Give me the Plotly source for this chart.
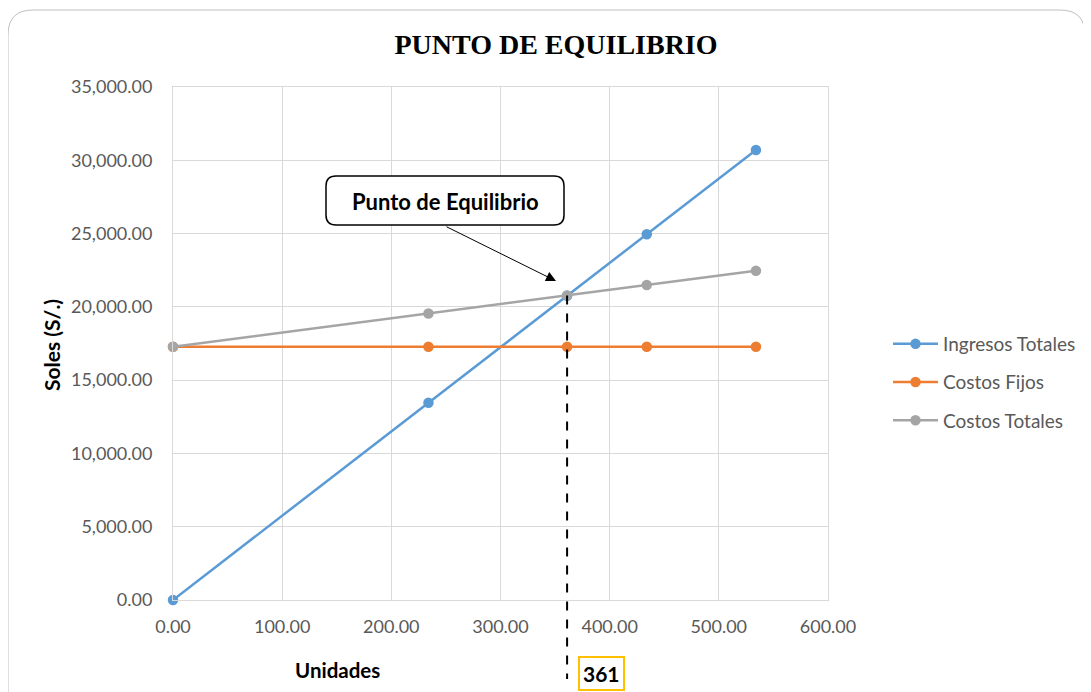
import plotly.graph_objects as go

# ---- data ----
unidades = [0, 234, 361, 434, 534]
ingresos_totales = [0, 13455, 20758, 24955, 30705]
costos_fijos = [17280, 17280, 17280, 17280, 17280]
costos_totales = [17280, 19550, 20782, 21490, 22460]
series_names = ["Ingresos Totales", "Costos Fijos", "Costos Totales"]
series_colors = ["#5B9BD5", "#ED7D31", "#A5A5A5"]
punto_equilibrio = 361
x_range = [0, 600]
y_range = [0, 35000]

W, H = 1091, 692
OFF = 8  # page body offset
PL, PT, PW, PH = 173, 87, 655, 513  # plot box in screen pixels
ML, MT = PL - OFF, PT - OFF
MR, MB = W - ML - PW, H - MT - PH

def px_x(p):  # screen pixel -> paper
    return (p - PL) / PW

def px_y(p):
    return (PT + PH - p) / PH

fig = go.Figure()
for i, (name, vals) in enumerate(zip(series_names, [ingresos_totales, costos_fijos, costos_totales])):
    fig.add_trace(go.Scatter(
        x=unidades, y=vals, name=name, mode="lines+markers",
        line=dict(color=series_colors[i], width=2.5),
        marker=dict(color=series_colors[i], size=10.5),
        legendgroup=name, cliponaxis=False,
    ))

tick_font = dict(family="Lato", size=18, color="#595959")

fig.update_layout(
    width=W, height=H,
    margin=dict(l=ML, r=MR, t=MT, b=MB),
    paper_bgcolor="white", plot_bgcolor="white",
    title=dict(text="<b>PUNTO DE EQUILIBRIO</b>", x=(556 - OFF) / W, xanchor="center",
               y=1 - (44 - OFF) / H, yanchor="middle",
               font=dict(family="Liberation Serif", size=28, color="black")),
    xaxis=dict(range=x_range, dtick=100, tickformat=",.2f", showgrid=True,
               gridcolor="#D9D9D9", gridwidth=1, zeroline=False,
               showline=True, mirror=True, linecolor="#D9D9D9", linewidth=1,
               tickfont=tick_font, ticks="", ticklabelstandoff=10),
    yaxis=dict(range=y_range, dtick=5000, tickformat=",.2f", showgrid=True,
               gridcolor="#D9D9D9", gridwidth=1, zeroline=False,
               showline=True, mirror=True, linecolor="#D9D9D9", linewidth=1,
               tickfont=tick_font, ticks="", ticklabelstandoff=16),
    legend=dict(x=px_x(888), y=px_y(325), xanchor="left", yanchor="top",
                font=dict(family="Lato", size=19, color="#595959"),
                itemwidth=45, tracegroupgap=10.5, traceorder="grouped",
                bgcolor="rgba(0,0,0,0)"),
    showlegend=True,
)

# axis titles
fig.add_annotation(text="<b>Unidades</b>", xref="paper", yref="paper",
                   x=px_x(337), y=px_y(670), showarrow=False,
                   xanchor="center", yanchor="middle",
                   font=dict(family="Lato", size=20.5, color="black"))
fig.add_annotation(text="<b>Soles (S/.)</b>", xref="paper", yref="paper",
                   x=px_x(51), y=px_y(345), showarrow=False, textangle=-90,
                   xanchor="center", yanchor="middle",
                   font=dict(family="Lato", size=21, color="black"))

# break-even dashed line (paper coords derived from data)
ct_be = costos_totales[unidades.index(punto_equilibrio)]
xp = (punto_equilibrio - x_range[0]) / (x_range[1] - x_range[0])
yp = (ct_be - y_range[0]) / (y_range[1] - y_range[0])
fig.add_shape(type="line", xref="paper", yref="paper", x0=xp, x1=xp, y0=yp, y1=px_y(679),
              line=dict(color="black", width=2, dash="dash"))
fig.add_annotation(text="<b>%d</b>" % punto_equilibrio, xref="paper", yref="paper",
                   x=xp, xshift=11, y=px_y(673), xanchor="left", yanchor="middle",
                   showarrow=False, bordercolor="#FFC000", borderwidth=2, borderpad=3,
                   font=dict(family="Lato", size=21, color="black"))

# callout box
def rounded_rect(x0, y0, x1, y1, r):
    rx, ry = r / PW, r / PH
    X0, X1 = px_x(x0), px_x(x1)
    Yt, Yb = px_y(y0), px_y(y1)
    return (f"M {X0+rx} {Yt} L {X1-rx} {Yt} Q {X1} {Yt} {X1} {Yt-ry} "
            f"L {X1} {Yb+ry} Q {X1} {Yb} {X1-rx} {Yb} L {X0+rx} {Yb} "
            f"Q {X0} {Yb} {X0} {Yb+ry} L {X0} {Yt-ry} Q {X0} {Yt} {X0+rx} {Yt} Z")

fig.add_shape(type="path", xref="paper", yref="paper",
              path=rounded_rect(326, 176, 564, 225, 10),
              line=dict(color="black", width=1.5), fillcolor="white")
fig.add_annotation(text="<b>Punto de Equilibrio</b>", xref="paper", yref="paper",
                   x=px_x(445), y=px_y(201), showarrow=False,
                   xanchor="center", yanchor="middle",
                   font=dict(family="Lato", size=22, color="black"))
fig.add_annotation(text="", xref="paper", yref="paper", x=px_x(556), y=px_y(281),
                   ax=-111, ay=-55, showarrow=True, arrowhead=2, arrowsize=2,
                   arrowwidth=1, arrowcolor="black")

# outer rounded border
fig.add_shape(type="path", xref="paper", yref="paper",
              path=rounded_rect(8, 10, 1085, 730, 25),
              line=dict(color="#BFBFBF", width=1), fillcolor="rgba(0,0,0,0)", layer="below")

fig.write_html("out.html")
